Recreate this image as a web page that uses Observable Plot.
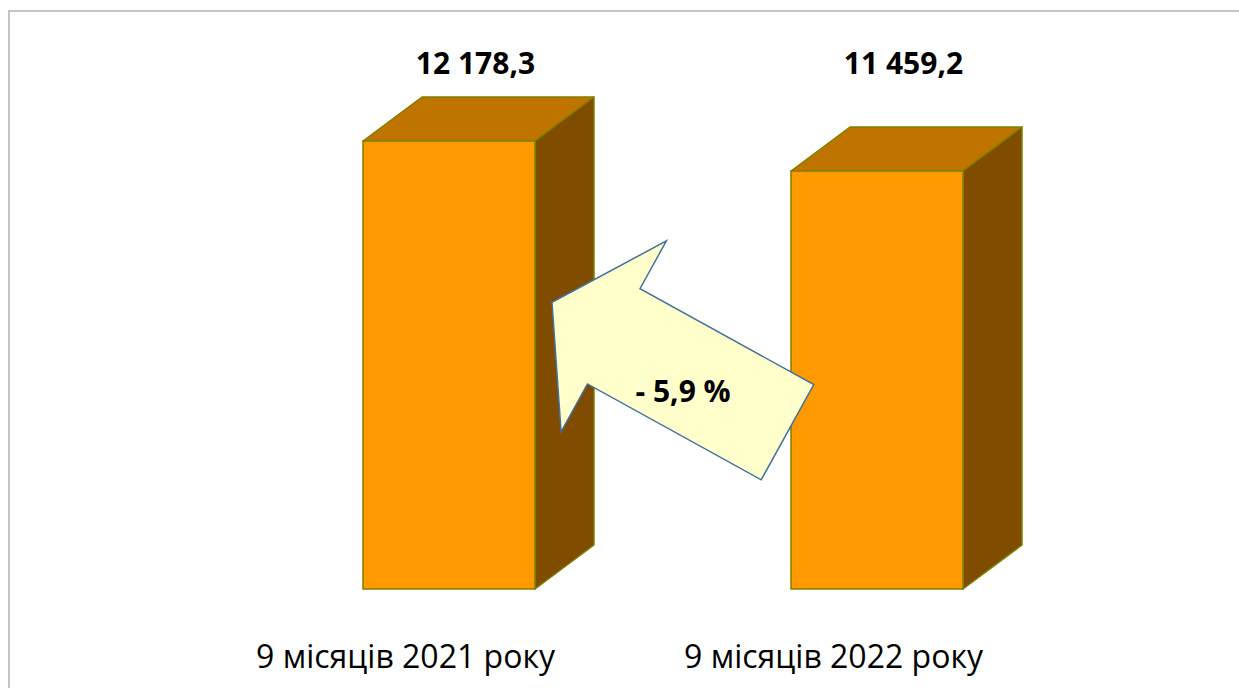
<!DOCTYPE html>
<html>
<head>
<meta charset="utf-8">
<script src="https://cdn.jsdelivr.net/npm/d3@7"></script>
<script src="https://cdn.jsdelivr.net/npm/@observablehq/plot@0.6"></script>
<style>
  html, body { margin: 0; padding: 0; background: #fff; overflow: hidden; }
  #wrap { position: relative; width: 1239px; height: 688px; }
  #frame { position: absolute; left: 8px; top: 10px; width: 1300px; height: 800px;
           border: 2px solid #c4c4c4; box-sizing: border-box; pointer-events: none; }
</style>
</head>
<body>
<div id="wrap"><div id="frame"></div></div>
<script>
// ---- data ----
const categories = ["9 місяців 2021 року", "9 місяців 2022 року"];
const values = [12178.3, 11459.2];
const yBase = 1440; // floor of the 3D value axis

const data = categories.map((c, i) => ({cat: c, value: values[i]}));
const fmt = d3.formatLocale({decimal: ",", thousands: "\u00a0", grouping: [3]}).format(",.1f");
const changePct = (values[1] / values[0] - 1) * 100;
const changeLabel = "- " + d3.formatLocale({decimal: ",", thousands: " ", grouping: [3]}).format(".1f")(Math.abs(changePct)) + " %";

// ---- style ----
const FRONT = "#FF9900", TOP = "#C07400", SIDE = "#7F4C00", EDGE = "#7F7F00";
const DX = 59, DY = -44; // 3D depth offset
const FONT = "'Open Sans', 'DejaVu Sans', sans-serif";

function faces(index, scales) {
  const x = scales.x, y = scales.y, bw = x.bandwidth();
  const g = d3.create("svg:g");
  for (const d of data) {
    const x0 = x(d.cat), x1 = x0 + bw, yt = y(d.value), yb = y(yBase);
    g.append("path")
      .attr("d", `M${x0},${yt}L${x0 + DX},${yt + DY}L${x1 + DX},${yt + DY}L${x1},${yt}Z`)
      .attr("fill", TOP).attr("stroke", EDGE).attr("stroke-width", 1.5).attr("stroke-linejoin", "round");
    g.append("path")
      .attr("d", `M${x1},${yt}L${x1 + DX},${yt + DY}L${x1 + DX},${yb + DY}L${x1},${yb}Z`)
      .attr("fill", SIDE).attr("stroke", EDGE).attr("stroke-width", 1.5).attr("stroke-linejoin", "round");
  }
  return g.node();
}

function arrow(index, scales) {
  const x = scales.x, y = scales.y, bw = x.bandwidth();
  const top = y(values[0]), bot = y(yBase), h = bot - top;
  const tip = [x(categories[0]) + bw + 17, top + 0.36 * h];
  const tail = [x(categories[1]) - 3.5, top + 0.65 * h];
  const vx = tail[0] - tip[0], vy = tail[1] - tip[1], L = Math.hypot(vx, vy);
  const u = [vx / L, vy / L];          // from tip toward tail
  const n = [-u[1], u[0]];              // normal
  const headLen = 70.5, headHalf = 109, shaftHalf = 54.4;
  const P = (a, b) => [tip[0] + u[0] * a + n[0] * b, tip[1] + u[1] * a + n[1] * b];
  const pts = [P(0, 0), P(headLen, headHalf), P(headLen, shaftHalf), P(L, shaftHalf),
               P(L, -shaftHalf), P(headLen, -shaftHalf), P(headLen, -headHalf)];
  const g = d3.create("svg:g");
  g.append("path").attr("d", "M" + pts.map(p => p.join(",")).join("L") + "Z")
    .attr("fill", "#FFFFCC").attr("stroke", "#41719C").attr("stroke-width", 1.5)
    .attr("stroke-linejoin", "miter");
  const c = P(158, 15);
  g.append("text").attr("x", c[0]).attr("y", c[1]).attr("text-anchor", "middle")
    .attr("dy", "0.35em").attr("font-family", FONT).attr("font-weight", "bold")
    .attr("font-size", 30).attr("fill", "#000").text(changeLabel);
  return g.node();
}

const chart = Plot.plot({
  width: 1239,
  height: 688,
  marginTop: 0, marginBottom: 0, marginLeft: 0, marginRight: 0,
  style: {background: "transparent", fontFamily: FONT, overflow: "visible"},
  x: {domain: categories, range: [362, 963], paddingInner: 0.599, paddingOuter: 0, axis: null},
  y: {domain: [yBase, values[0]], range: [589, 141], axis: null},
  marks: [
    faces,
    Plot.barY(data, {x: "cat", y1: yBase, y2: "value", fill: FRONT, stroke: EDGE, strokeWidth: 1.5}),
    arrow,
    Plot.text(data, {x: "cat", text: d => fmt(d.value), frameAnchor: "top", dx: 26, dy: 52,
                     fontSize: 30, fontWeight: "bold", fill: "#000"}),
    Plot.text(data, {x: "cat", text: "cat", frameAnchor: "bottom", dx: -44, dy: -21,
                     fontSize: 32, fill: "#000"})
  ]
});
chart.style.position = "absolute";
chart.style.left = "0px";
chart.style.top = "0px";
document.getElementById("wrap").appendChild(chart);
</script>
</body>
</html>
